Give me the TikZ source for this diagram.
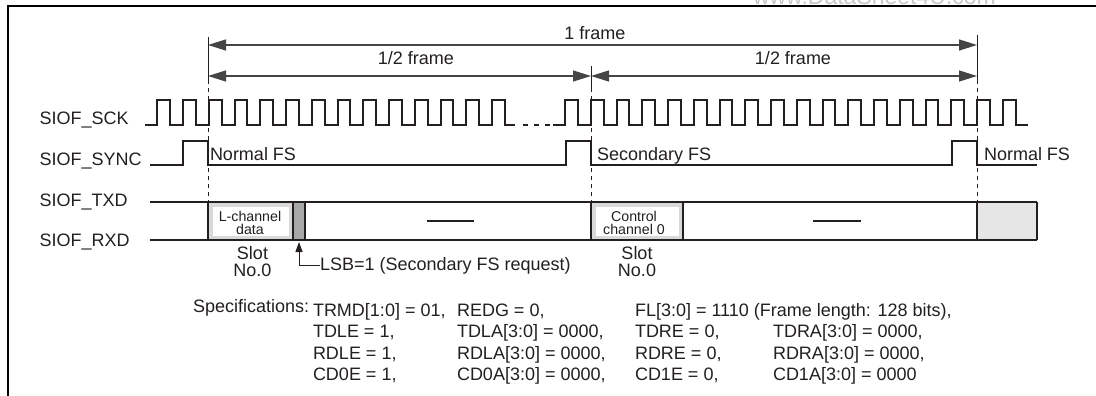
\documentclass[tikz,border=0pt]{standalone}
\usepackage{fontspec}
\setmainfont{Liberation Sans}
\usetikzlibrary{arrows.meta}
\definecolor{ink}{HTML}{231F20}
\definecolor{dimc}{HTML}{454545}
\definecolor{lgray}{HTML}{D9D9D9}
\definecolor{mgray}{HTML}{A8A8A8}
\definecolor{fgray}{HTML}{E6E6E7}
\definecolor{wmark}{HTML}{C8C8C8}
\tikzset{
  sig/.style={line width=2pt, draw=ink, line join=miter},
  dimline/.style={line width=1.3pt, draw=dimc, {Triangle[length=18pt,width=11pt]}-{Triangle[length=18pt,width=11pt]}},
  tick/.style={line width=1pt, draw=ink},
  dashtick/.style={line width=1pt, draw=ink, dash pattern=on 4pt off 4pt},
  txt/.style={inner sep=0pt, outer sep=0pt, font=\fontsize{18}{17}\selectfont, text=ink},
  small/.style={inner sep=0pt, outer sep=0pt, font=\fontsize{14.2}{12.8}\selectfont, text=ink, align=center},
  two/.style={inner sep=0pt, outer sep=0pt, font=\fontsize{18}{16.7}\selectfont, text=ink, align=center},
}
\begin{document}
\begin{tikzpicture}[x=1pt, y=-1pt]
\useasboundingbox (0,0) rectangle (1096,396);
% watermark (cut by the top edge, as in the reference)
\begin{scope}
\clip (0,0) rectangle (1096,396);
\node[txt, text=wmark, font=\fontsize{23}{25}\selectfont, anchor=base west] (wm) at (753,5) {www.DataSheet4U.com};
\end{scope}
% frame
\draw[line width=2.5pt, draw=black] (8,396) -- (8,6) -- (1096,6);

% dimension coordinates
\coordinate (fL) at (208,45);
\coordinate (fR) at (977,45);
\coordinate (hL) at (208,76);
\coordinate (hM) at (591,76);
\coordinate (hR) at (977,76);
\draw[dimline] (fL) -- (fR);
\draw[dimline] (hL) -- (hM);
\draw[dimline] (hM) -- (hR);
\node[txt, anchor=base] (lab1f) at (595,40) {1 frame};
\node[txt, anchor=base] (lab2a) at (416,65) {1/2 frame};
\node[txt, anchor=base] (lab2b) at (793,65) {1/2 frame};

% ticks and dashed lines
\draw[tick] (208,37) -- (208,80);
\draw[tick] (591,66) -- (591,88);
\draw[tick] (977,35) -- (977,80);
\draw[dashtick] (208,80) -- (208,201);
\draw[dashtick] (591,88) -- (591,201);
\draw[dashtick] (977,80) -- (977,201);

% signal names
\node[txt, anchor=base west] (nsck) at (39.5,124.5) {SIOF\_SCK};
\node[txt, anchor=base west] (nsync) at (39.5,165.5) {SIOF\_SYNC};
\node[txt, anchor=base west] (ntxd) at (39.5,206) {SIOF\_TXD};
\node[txt, anchor=base west] (nrxd) at (39.5,246) {SIOF\_RXD};

% clock
\draw[sig] (145,124.5)
  \foreach \k [evaluate=\k as \r using 157.25+25.75*\k] in {0,...,13} {
    -- (\r,124.5) -- (\r,100) -- ({\r+12.875},100) -- ({\r+12.875},124.5) }
  -- (515,124.5);
\draw[sig] (523,124.5) -- (528,124.5) (534,124.5) -- (539,124.5) (545,124.5) -- (550,124.5);
\draw[sig] (553,124.5)
  \foreach \k [evaluate=\k as \r using 565+25.75*\k] in {0,...,17} {
    -- (\r,124.5) -- (\r,100) -- ({\r+12.875},100) -- ({\r+12.875},124.5) }
  -- (1028,124.5);

% sync
\draw[sig] (150,165) -- (183,165) -- (183,140.5) -- (208,140.5) -- (208,165)
  -- (566,165) -- (566,140.5) -- (591,140.5) -- (591,165)
  -- (952,165) -- (952,140.5) -- (977,140.5) -- (977,165) -- (1037,165);
\node[txt, anchor=base west] (nfs1) at (210,160.7) {Normal FS};
\node[txt, anchor=base west] (sfs) at (597,160.7) {Secondary FS};
\node[txt, anchor=base west] (nfs2) at (984,160.7) {Normal FS};

% data band fills
\fill[lgray] (208,202) rectangle (293,240);
\fill[white] (213,207) rectangle (289,236);
\fill[mgray] (293,202) rectangle (305,240);
\fill[lgray] (591,202) rectangle (683,240);
\fill[white] (596,207) rectangle (679,236);
\fill[fgray] (977,202) rectangle (1037,240);
% data band outlines
\draw[sig] (150,202) -- (1037,202);
\draw[sig] (150,240) -- (1037,240);
\foreach \xx in {208,293,305,591,683,977,1037} {
  \draw[sig] (\xx,202) -- (\xx,240);
}
\draw[sig] (427,221) -- (474,221);
\draw[sig] (813,221) -- (861,221);

% multi-line nodes: base anchor = baseline of the last line
\node[small, anchor=base] (lch) at (250,234.3) {L-channel\\data};
\node[small, anchor=base] (cch) at (634,234.5) {Control\\channel 0};
\node[two, anchor=base] (slot1) at (252.5,276) {Slot\\No.0};
\node[two, anchor=base] (slot2) at (637,276) {Slot\\No.0};

% LSB arrow
\node[txt, anchor=base west] (lsb) at (320,270.5) {LSB=1 (Secondary FS request)};
\coordinate (lsbtip) at (299,242);
\draw[line width=1pt, draw=ink, -{Triangle[length=10pt,width=7pt]}] (lsb.west) -| (lsbtip);

% specifications
\node[txt, anchor=base west] (spec) at (193,312.5) {Specifications:};
\node[txt, anchor=base west] (s11) at (313,316) {TRMD[1:0] = 01,};
\node[txt, anchor=base west] (s12) at (457,316) {REDG = 0,};
\node[txt, anchor=base west] (s13) at (635,316) {FL[3:0] = 1110 (Frame length: 128 bits),};
\node[txt, anchor=base west] (s21) at (313,337.5) {TDLE = 1,};
\node[txt, anchor=base west] (s22) at (457,337.5) {TDLA[3:0] = 0000,};
\node[txt, anchor=base west] (s23) at (635,337.5) {TDRE = 0,};
\node[txt, anchor=base west] (s24) at (773,337.5) {TDRA[3:0] = 0000,};
\node[txt, anchor=base west] (s31) at (313,359) {RDLE = 1,};
\node[txt, anchor=base west] (s32) at (457,359) {RDLA[3:0] = 0000,};
\node[txt, anchor=base west] (s33) at (635,359) {RDRE = 0,};
\node[txt, anchor=base west] (s34) at (773,359) {RDRA[3:0] = 0000,};
\node[txt, anchor=base west] (s41) at (313,380.5) {CD0E = 1,};
\node[txt, anchor=base west] (s42) at (457,380.5) {CD0A[3:0] = 0000,};
\node[txt, anchor=base west] (s43) at (635,380.5) {CD1E = 0,};
\node[txt, anchor=base west] (s44) at (773,380.5) {CD1A[3:0] = 0000};
\end{tikzpicture}
\end{document}
